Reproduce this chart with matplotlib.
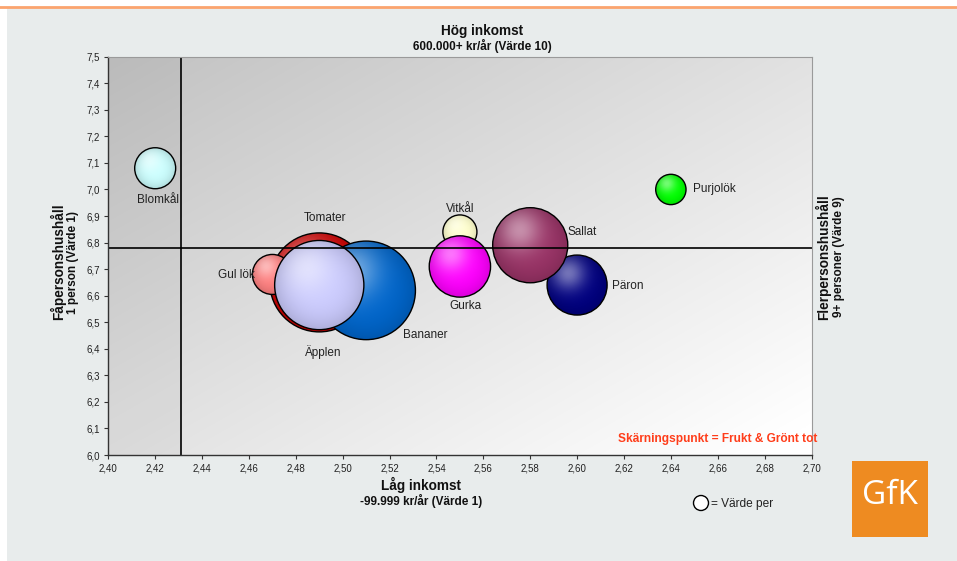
import numpy as np
import matplotlib
matplotlib.use("Agg")
import matplotlib.pyplot as plt
from matplotlib.patches import Ellipse, Rectangle
from matplotlib.lines import Line2D
from matplotlib.ticker import FuncFormatter

plt.rcParams['font.family'] = ['Liberation Sans', 'DejaVu Sans']

# Produkter: inkomst (x), hushållsstorlek (y), värde per (bubblans yta)
produkter = ["Tomater", "Bananer", "Gul lök", "Äpplen", "Blomkål",
             "Vitkål", "Gurka", "Päron", "Sallat", "Purjolök"]
inkomst = [2.49, 2.51, 2.47, 2.49, 2.42, 2.55, 2.55, 2.60, 2.58, 2.64]
hushall = [6.65, 6.62, 6.68, 6.64, 7.08, 6.84, 6.71, 6.64, 6.79, 7.00]
varde_per = [245, 243, 40, 199, 42, 29, 94, 90, 141, 23]
farger = ["#d40000", "#0066cc", "#ff8080", "#ccccff", "#ccffff",
          "#ffffcc", "#ff00ff", "#000080", "#993366", "#00ff00"]

# Skärningspunkt = Frukt & Grönt totalt
skarning_x = 2.431
skarning_y = 6.778

x_ticks = np.round(np.arange(2.40, 2.7001, 0.02), 2)
y_ticks = np.round(np.arange(6.0, 7.5001, 0.1), 1)

W, H = 957, 561
fig = plt.figure(figsize=(W / 100, H / 100), dpi=100)
fig.patch.set_facecolor("white")


def fx(px):
    return px / W


def fy(py):
    return 1 - py / H


# Bakgrundspanel och orange linje
fig.add_artist(Rectangle((fx(7), 0), 1 - fx(7), fy(8), transform=fig.transFigure,
                         facecolor="#e8ecec", edgecolor="none", zorder=0))
fig.add_artist(Line2D([0, 1], [fy(6.5), fy(6.5)], transform=fig.transFigure,
                      color="#fba46e", lw=2.0, zorder=1))

ax_l, ax_r, ax_t, ax_b = 108.3, 811.5, 56.7, 455.0
ax = fig.add_axes([fx(ax_l), fy(ax_b), (ax_r - ax_l) / W, (ax_b - ax_t) / H])
xmin, xmax, ymin, ymax = 2.40, 2.70, 6.0, 7.5
px_per_x = (ax_r - ax_l) / (xmax - xmin)
px_per_y = (ax_b - ax_t) / (ymax - ymin)

# Diagonal gradient i diagramytan
gu, gv = np.meshgrid(np.linspace(0, 1, 400), np.linspace(0, 1, 300))
g = np.clip(0.76 + 0.125 * (gu + gv), 0, 1)
bg = np.dstack([g, g, g])
ax.imshow(bg, extent=[xmin, xmax, ymin, ymax], origin="upper",
          aspect="auto", zorder=0, interpolation="bilinear")
ax.add_patch(Rectangle((xmin, ymin), skarning_x - xmin, ymax - ymin,
                       facecolor="black", alpha=0.03, edgecolor="none", zorder=0.5))

# Skuggade bubblor
N = 160
yy, xx = np.mgrid[-1:1:N * 1j, -1:1:N * 1j]
hx, hy = -0.3, -0.4
dist = np.sqrt((xx - hx) ** 2 + (yy - hy) ** 2)
edge = np.sqrt(xx ** 2 + yy ** 2)
K = np.sqrt(10.0)

for i, (name, x, y, v, c) in enumerate(zip(produkter, inkomst, hushall, varde_per, farger)):
    r = K * np.sqrt(v)
    rx, ry = r / px_per_x, r / px_per_y
    base = np.array(matplotlib.colors.to_rgb(c))
    dark = 1 - 0.15 * np.clip(edge, 0, 1) ** 3
    col = base[None, None, :] * dark[..., None]
    hl = 0.45 * np.exp(-(dist / 0.55) ** 2)
    col = col + (1 - col) * hl[..., None]
    img = np.clip(col, 0, 1)
    z = 2 + i * 0.01
    im = ax.imshow(img, extent=[x - rx, x + rx, y - ry, y + ry], origin="upper",
                   aspect="auto", zorder=z, interpolation="bilinear")
    clip = Ellipse((x, y), 2 * rx, 2 * ry, transform=ax.transData)
    im.set_clip_path(clip)
    ax.add_patch(Ellipse((x, y), 2 * rx, 2 * ry, fill=False, edgecolor="black",
                         lw=1.0, zorder=z + 0.001))

# Etiketter (förskjutning i pixlar från bubblans mitt; y nedåt)
etikett = {
    "Blomkål": (3, 32, "center"),
    "Tomater": (6, -64, "center"),
    "Gul lök": (-18, 1, "right"),
    "Äpplen": (4, 67, "center"),
    "Bananer": (59, 45, "center"),
    "Vitkål": (0, -23, "center"),
    "Gurka": (6, 40, "center"),
    "Sallat": (37, -13, "left"),
    "Päron": (35, 1, "left"),
    "Purjolök": (22, 0, "left"),
}
for name, x, y in zip(produkter, inkomst, hushall):
    dx, dy, ha = etikett[name]
    ax.annotate(name, (x, y), xytext=(dx * 0.72, -dy * 0.72), textcoords="offset points",
                ha=ha, va="center", fontsize=8.5, color="#222222", zorder=10)

# Referenslinjer
ax.axvline(skarning_x, color="black", lw=1.2, zorder=9)
ax.axhline(skarning_y, color="black", lw=1.2, zorder=9)

ax.set_xlim(xmin, xmax)
ax.set_ylim(ymin, ymax)
ax.set_xticks(x_ticks)
ax.set_yticks(y_ticks)
ax.xaxis.set_major_formatter(FuncFormatter(lambda v, p: f"{v:.2f}".replace(".", ",")))
ax.yaxis.set_major_formatter(FuncFormatter(lambda v, p: f"{v:.1f}".replace(".", ",")))
ax.tick_params(axis="both", labelsize=7, length=3, width=0.8, color="#333333",
               labelcolor="#222222", pad=3)
for s in ["left", "bottom"]:
    ax.spines[s].set_color("#333333")
    ax.spines[s].set_linewidth(1.0)
for s in ["top", "right"]:
    ax.spines[s].set_color("#9a9a9a")
    ax.spines[s].set_linewidth(0.8)
for s in ax.spines.values():
    s.set_zorder(11)

# Axeltexter
fig.text(fx(482), fy(31), "Hög inkomst", ha="center", va="center",
         fontsize=9.8, fontweight="bold", color="#111111")
fig.text(fx(482), fy(46), "600.000+ kr/år (Värde 10)", ha="center", va="center",
         fontsize=8.5, fontweight="bold", color="#111111")
fig.text(fx(421), fy(485), "Låg inkomst", ha="center", va="center",
         fontsize=9.8, fontweight="bold", color="#111111")
fig.text(fx(421), fy(501), "-99.999 kr/år (Värde 1)", ha="center", va="center",
         fontsize=8.5, fontweight="bold", color="#111111")
fig.text(fx(58), fy(262), "Fåpersonshushåll", ha="center", va="center", rotation=90,
         fontsize=9.8, fontweight="bold", color="#111111")
fig.text(fx(73), fy(262), "1 person (Värde 1)", ha="center", va="center", rotation=90,
         fontsize=8.5, fontweight="bold", color="#111111")
fig.text(fx(823), fy(257), "Flerpersonshushåll", ha="center", va="center", rotation=90,
         fontsize=9.8, fontweight="bold", color="#111111")
fig.text(fx(839), fy(257), "9+ personer (Värde 9)", ha="center", va="center", rotation=90,
         fontsize=8.5, fontweight="bold", color="#111111")

fig.text(fx(817), fy(439), "Skärningspunkt = Frukt & Grönt tot", ha="right", va="center",
         fontsize=8.6, fontweight="bold", color="#ff3d1a", zorder=12)

# Storleksförklaring
fig.add_artist(Ellipse((fx(701), fy(503)), 15 / W, 15 / H, transform=fig.transFigure,
                       facecolor="white", edgecolor="black", lw=1.0, zorder=5))
fig.text(fx(711), fy(504), "= Värde per", ha="left", va="center",
         fontsize=8.6, color="#222222")

# Logotyp
fig.add_artist(Rectangle((fx(852), fy(537)), 76 / W, 76 / H, transform=fig.transFigure,
                         facecolor="#ee8b21", edgecolor="none", zorder=5))
fig.text(fx(890), fy(496), "GfK", ha="center", va="center", fontsize=24,
         color="white", family=["Open Sans", "DejaVu Sans"], zorder=6)

fig.savefig("out.png", dpi=100)
